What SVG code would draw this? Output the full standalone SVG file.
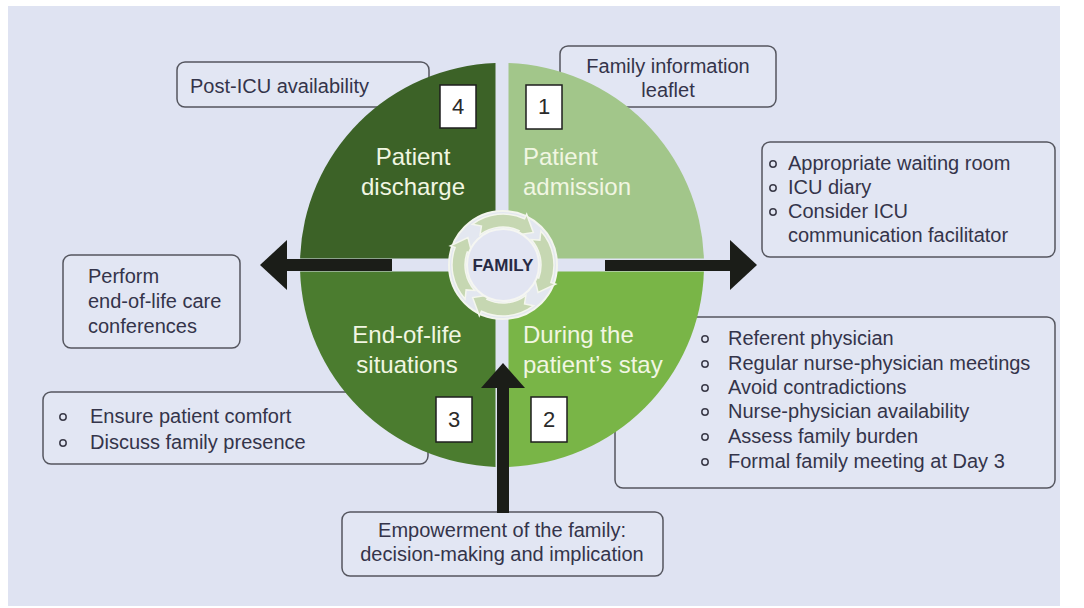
<svg xmlns="http://www.w3.org/2000/svg" width="1084" height="608" viewBox="0 0 1084 608">
<defs>
<style>
.box{fill:#e2e6f3;stroke:#55565f;stroke-width:1.5}
.t{font-family:"Liberation Sans",Arial,sans-serif;font-size:20px;fill:#34344a}
.q{font-family:"Liberation Sans",Arial,sans-serif;font-size:24px;fill:#f1f6e2}
.num{fill:#ffffff;stroke:#1e1e1e;stroke-width:1.5}
.nt{font-family:"Liberation Sans",Arial,sans-serif;font-size:22px;fill:#2a2a2a;text-anchor:middle}
.bul{fill:none;stroke:#3a3a48;stroke-width:1.5}
.arr{fill:#1b1d18}
.ring{fill:#c6d7b2;stroke:#f4f6ee;stroke-width:1.5}
</style>
<path id="ra" d="M8.85,-50.22 A51,51 0 0,1 48.51,-15.76 L53.26,-17.30 L44.5,0 L31.39,-10.20 L36.14,-11.74 A38,38 0 0,0 6.60,-37.42 L13.75,-42.32 Z"/>
</defs>
<rect x="0" y="0" width="1084" height="608" fill="#ffffff"/>
<rect x="8" y="6" width="1052" height="600" fill="#dfe3f2"/>

<g id="callout-postICU">
<rect class="box" x="177" y="62" width="252" height="45" rx="8"/>
<text class="t" x="190" y="93">Post-ICU availability</text>
</g>
<g id="callout-leaflet">
<rect class="box" x="560" y="46" width="216" height="61" rx="8"/>
<text class="t" x="668" y="73" text-anchor="middle">Family information</text>
<text class="t" x="668" y="97" text-anchor="middle">leaflet</text>
</g>
<g id="callout-admission">
<rect class="box" x="762" y="142" width="293" height="115" rx="8"/>
<circle class="bul" cx="773" cy="164" r="3.2"/>
<circle class="bul" cx="773" cy="188" r="3.2"/>
<circle class="bul" cx="773" cy="212" r="3.2"/>
<text class="t" x="788" y="170">Appropriate waiting room</text>
<text class="t" x="788" y="194">ICU diary</text>
<text class="t" x="788" y="218">Consider ICU</text>
<text class="t" x="788" y="242">communication facilitator</text>
</g>
<g id="callout-conferences">
<rect class="box" x="63" y="255" width="177" height="93" rx="8"/>
<text class="t" x="88" y="283">Perform</text>
<text class="t" x="88" y="308">end-of-life care</text>
<text class="t" x="88" y="333">conferences</text>
</g>
<g id="callout-stay">
<rect class="box" x="615" y="317" width="440" height="171" rx="8"/>
<circle class="bul" cx="705" cy="339" r="3.2"/>
<circle class="bul" cx="705" cy="364" r="3.2"/>
<circle class="bul" cx="705" cy="388" r="3.2"/>
<circle class="bul" cx="705" cy="412" r="3.2"/>
<circle class="bul" cx="705" cy="437" r="3.2"/>
<circle class="bul" cx="705" cy="462" r="3.2"/>
<text class="t" x="728" y="345">Referent physician</text>
<text class="t" x="728" y="370">Regular nurse-physician meetings</text>
<text class="t" x="728" y="394">Avoid contradictions</text>
<text class="t" x="728" y="418">Nurse-physician availability</text>
<text class="t" x="728" y="443">Assess family burden</text>
<text class="t" x="728" y="468">Formal family meeting at Day 3</text>
</g>
<g id="callout-endoflife">
<rect class="box" x="43" y="392" width="385" height="72" rx="8"/>
<circle class="bul" cx="63" cy="417" r="3.2"/>
<circle class="bul" cx="63" cy="443" r="3.2"/>
<text class="t" x="90" y="423">Ensure patient comfort</text>
<text class="t" x="90" y="449">Discuss family presence</text>
</g>
<g id="callout-empowerment">
<rect class="box" x="342" y="512" width="321" height="64" rx="8"/>
<text class="t" x="502" y="537" text-anchor="middle">Empowerment of the family:</text>
<text class="t" x="502" y="561" text-anchor="middle">decision-making and implication</text>
</g>

<g id="q4-discharge">
<path d="M495.5,258.5 L300.1,258.5 A202,202 0 0,1 495.5,63.1 Z" fill="#3c6227"/>
<text class="q" x="413" y="165" text-anchor="middle">Patient</text>
<text class="q" x="413" y="195" text-anchor="middle">discharge</text>
</g>
<g id="q1-admission">
<path d="M508.5,258.5 L508.5,63.1 A202,202 0 0,1 703.9,258.5 Z" fill="#a2c68a"/>
<text class="q" x="523" y="165">Patient</text>
<text class="q" x="523" y="195">admission</text>
</g>
<g id="q2-stay">
<path d="M508.5,271.5 L703.9,271.5 A202,202 0 0,1 508.5,466.9 Z" fill="#79b547"/>
<text class="q" x="523" y="343">During the</text>
<text class="q" x="523" y="373">patient’s stay</text>
</g>
<g id="q3-endoflife">
<path d="M495.5,271.5 L495.5,466.9 A202,202 0 0,1 300.1,271.5 Z" fill="#4b7c2f"/>
<text class="q" x="407" y="343" text-anchor="middle">End-of-life</text>
<text class="q" x="407" y="373" text-anchor="middle">situations</text>
</g>

<g id="connectors">
<rect class="arr" x="282" y="259" width="110" height="12"/>
<polygon class="arr" points="260,265 287,240 287,290"/>
<rect class="arr" x="605" y="260" width="128" height="11"/>
<polygon class="arr" points="757,265 730,240 730,290"/>
<rect class="arr" x="497" y="384" width="12" height="129"/>
<polygon class="arr" points="503,363 481,388 525,388"/>
</g>

<g id="family">
<circle cx="503" cy="265" r="54" fill="#e3e7f0" stroke="#f3f5ee" stroke-width="2"/>
<g transform="translate(503,265)">
<use href="#ra" class="ring" transform="rotate(-47)"/>
<use href="#ra" class="ring" transform="rotate(38)"/>
<use href="#ra" class="ring" transform="rotate(133)"/>
<use href="#ra" class="ring" transform="rotate(218)"/>
</g>
<circle cx="503" cy="265" r="36" fill="#e2e5f2" stroke="#f5f6f2" stroke-width="2"/>
<text x="503" y="271" text-anchor="middle" font-family="Liberation Sans, Arial, sans-serif" font-size="17" font-weight="bold" fill="#272a44">FAMILY</text>
</g>

<g id="n4"><rect class="num" x="440" y="85" width="36" height="43"/><text class="nt" x="458" y="114">4</text></g>
<g id="n1"><rect class="num" x="526" y="85" width="36" height="44"/><text class="nt" x="544" y="114">1</text></g>
<g id="n3"><rect class="num" x="436" y="397" width="36" height="45"/><text class="nt" x="454" y="427">3</text></g>
<g id="n2"><rect class="num" x="531" y="397" width="36" height="45"/><text class="nt" x="549" y="427">2</text></g>
</svg>
